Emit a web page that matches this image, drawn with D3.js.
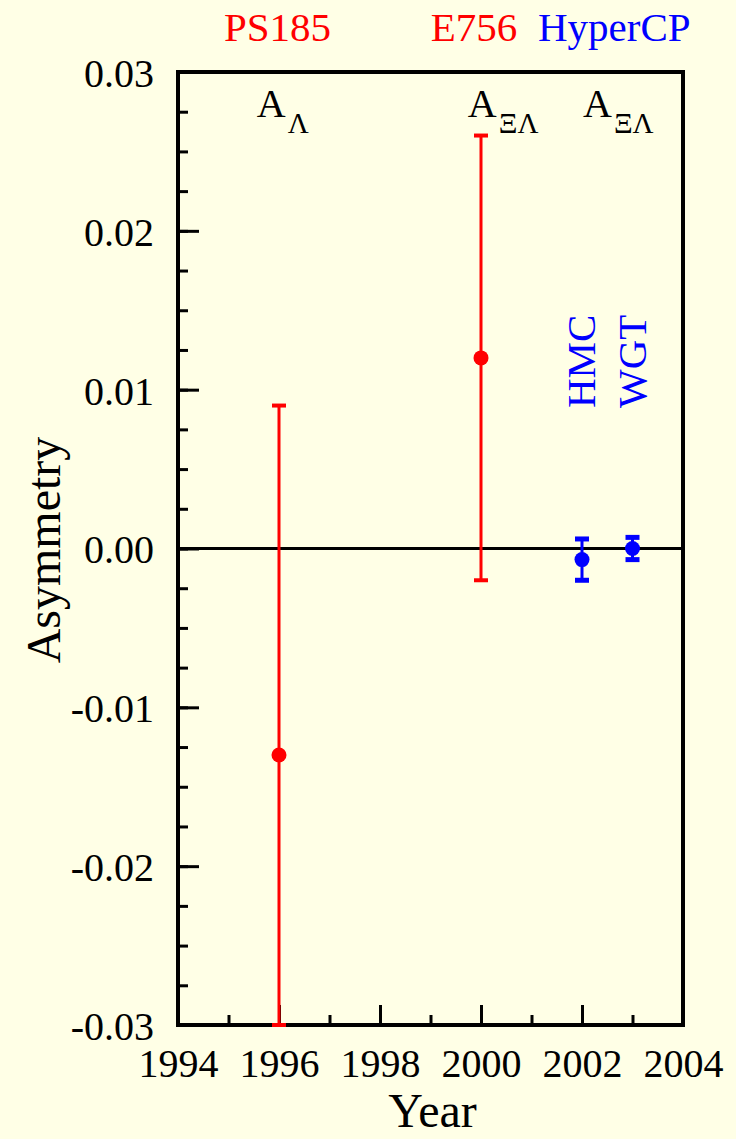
<!DOCTYPE html>
<html>
<head>
<meta charset="utf-8">
<script src="https://cdn.jsdelivr.net/npm/d3@7"></script>
<style>
  html, body { margin: 0; padding: 0; background: #ffffe6; }
  svg text { font-family: "Liberation Serif", "Times New Roman", serif; }
</style>
</head>
<body>
<svg id="chart" width="736" height="1139"></svg>
<script>
// measurements: year, asymmetry value, error
const experiments = ["PS185", "E756", "HyperCP HMC", "HyperCP WGT"];
const years = [1996, 2000, 2002, 2003];
const values = [-0.013, 0.012, -0.0007, 0.0];
const errors = [0.022, 0.014, 0.0013, 0.0007];
const colors = ["#ff0000", "#ff0000", "#0000ff", "#0000ff"];

const yearTicks = [1994, 1996, 1998, 2000, 2002, 2004];
const yTicks = [-0.03, -0.02, -0.01, 0.0, 0.01, 0.02, 0.03];

// header labels above the frame
const groupLabels = ["PS185", "E756", "HyperCP"];
const groupLabelX = [1995.97, 1999.86, 2002.64];
const groupColors = ["#ff0000", "#ff0000", "#0000ff"];

// A labels inside the frame
const asymLabels = [["A", "Λ"], ["A", "ΞΛ"], ["A", "ΞΛ"]];
const asymLabelX = [1995.56, 1999.74, 2002.02];

// rotated method labels for HyperCP
const methodLabels = ["HMC", "WGT"];
const methodYears = [2002, 2003];

const svg = d3.select("#chart");
const W = 736, H = 1139;
const mLeft = 178, mRight = 683, mTop = 72, mBottom = 1025;

svg.append("rect").attr("width", W).attr("height", H).attr("fill", "#ffffe6");

const x = d3.scaleLinear().domain([1994, 2004]).range([mLeft, mRight]);
const y = d3.scaleLinear().domain([-0.03, 0.03]).range([mBottom, mTop]);

// minor ticks
const yMinor = d3.range(-0.03, 0.0301, 0.0025);
svg.append("g")
  .attr("transform", `translate(${mLeft},0)`)
  .call(d3.axisLeft(y).tickValues(yMinor).tickSize(-10).tickFormat(""))
  .call(g => g.select(".domain").remove())
  .call(g => g.selectAll("line").attr("stroke", "#000").attr("stroke-width", 3));

svg.append("g")
  .attr("transform", `translate(0,${mBottom})`)
  .call(d3.axisBottom(x).tickValues(d3.range(1995, 2004, 2)).tickSize(-10).tickFormat(""))
  .call(g => g.select(".domain").remove())
  .call(g => g.selectAll("line").attr("stroke", "#000").attr("stroke-width", 3));

// major y axis
svg.append("g")
  .attr("transform", `translate(${mLeft},0)`)
  .call(d3.axisLeft(y).tickValues(yTicks).tickSize(-21).tickPadding(24)
    .tickFormat(d => d.toFixed(2)))
  .call(g => g.select(".domain").remove())
  .call(g => g.selectAll("line").attr("stroke", "#000").attr("stroke-width", 3))
  .call(g => g.selectAll("text")
    .attr("fill", "#000")
    .attr("font-size", 40)
    .attr("font-family", "Liberation Serif, serif")
    .attr("dy", "0.36em"));

// major x axis
svg.append("g")
  .attr("transform", `translate(0,${mBottom})`)
  .call(d3.axisBottom(x).tickValues(yearTicks).tickSize(-20).tickPadding(24)
    .tickFormat(d3.format("d")))
  .call(g => g.select(".domain").remove())
  .call(g => g.selectAll("line").attr("stroke", "#000").attr("stroke-width", 3))
  .call(g => g.selectAll("text")
    .attr("fill", "#000")
    .attr("font-size", 40)
    .attr("font-family", "Liberation Serif, serif")
    .attr("dy", "0.71em"));

// zero line
svg.append("line")
  .attr("x1", mLeft).attr("x2", mRight)
  .attr("y1", y(0)).attr("y2", y(0))
  .attr("stroke", "#000").attr("stroke-width", 3);

// frame
svg.append("rect")
  .attr("x", mLeft).attr("y", mTop)
  .attr("width", mRight - mLeft).attr("height", mBottom - mTop)
  .attr("fill", "none").attr("stroke", "#000").attr("stroke-width", 4);

// error bars and points
const clamp = v => Math.max(-0.03, Math.min(0.03, v));
const pts = experiments.map((e, i) => ({
  name: e, year: years[i], v: values[i], err: errors[i], color: colors[i]
}));

const eb = svg.append("g").selectAll("g").data(pts).join("g");
eb.append("line")
  .attr("x1", d => x(d.year)).attr("x2", d => x(d.year))
  .attr("y1", d => y(clamp(d.v + d.err))).attr("y2", d => y(clamp(d.v - d.err)))
  .attr("stroke", d => d.color).attr("stroke-width", 3);
[1, -1].forEach(s => {
  eb.append("line")
    .attr("x1", d => x(d.year) - 7).attr("x2", d => x(d.year) + 7)
    .attr("y1", d => y(clamp(d.v + s * d.err))).attr("y2", d => y(clamp(d.v + s * d.err)))
    .attr("stroke", d => d.color)
    .attr("stroke-width", d => d.color === "#0000ff" ? 5 : 4);
});
eb.append("circle")
  .attr("cx", d => x(d.year)).attr("cy", d => y(d.v))
  .attr("r", 7.5)
  .attr("fill", d => d.color);

// group labels above frame
svg.append("g").selectAll("text").data(groupLabels).join("text")
  .attr("x", (d, i) => x(groupLabelX[i]))
  .attr("y", 41)
  .attr("text-anchor", "middle")
  .attr("font-size", 41)
  .attr("fill", (d, i) => groupColors[i])
  .text(d => d);

// asymmetry labels
const al = svg.append("g").selectAll("text").data(asymLabels).join("text")
  .attr("x", (d, i) => x(asymLabelX[i]))
  .attr("y", 117)
  .attr("font-size", 40)
  .attr("fill", "#000");
al.append("tspan").text(d => d[0]);
al.append("tspan").attr("dy", 16).attr("dx", 2).attr("font-size", 29).text(d => d[1]);

// HMC / WGT rotated
svg.append("g").selectAll("text").data(methodLabels).join("text")
  .attr("transform", (d, i) => `translate(${x(methodYears[i]) + 13},408) rotate(-90)`)
  .attr("font-size", 41)
  .attr("fill", "#0000ff")
  .text(d => d);

// axis titles
svg.append("text")
  .attr("x", (mLeft + mRight) / 2 + 2)
  .attr("y", 1127)
  .attr("text-anchor", "middle")
  .attr("font-size", 48)
  .attr("fill", "#000")
  .text("Year");

svg.append("text")
  .attr("transform", `translate(60,550) rotate(-90)`)
  .attr("text-anchor", "middle")
  .attr("font-size", 48)
  .attr("fill", "#000")
  .text("Asymmetry");
</script>
</body>
</html>
